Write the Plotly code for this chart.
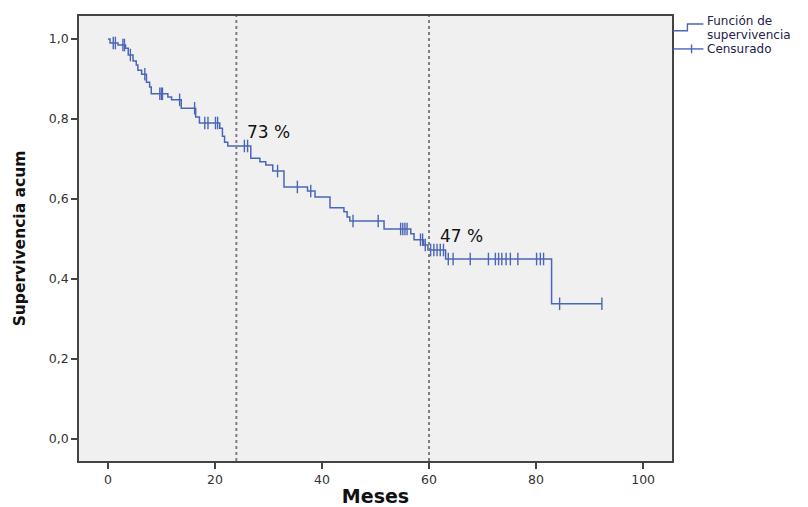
import numpy as np
import plotly.graph_objects as go

# Kaplan-Meier estimate: event times (months) and survival after each event
event_months = [0.4, 1.9, 3.3, 3.8, 4.7, 5.3, 5.6, 6.3, 7.2, 7.8, 8.1, 11.2, 11.9,
                13.7, 16.4, 17.1, 20.9, 21.4, 21.8, 22.4, 26.7, 28.4, 29.5, 30.8,
                32.9, 37.3, 38.7, 41.5, 44.1, 44.7, 45.2, 51.6, 56.6, 57.2, 59.0,
                59.8, 63.1, 82.9]
survival = [0.990, 0.985, 0.977, 0.960, 0.945, 0.935, 0.922, 0.912, 0.892, 0.880,
            0.863, 0.855, 0.848, 0.827, 0.805, 0.790, 0.777, 0.757, 0.742, 0.7325,
            0.702, 0.693, 0.685, 0.670, 0.630, 0.620, 0.605, 0.578, 0.568, 0.555,
            0.545, 0.525, 0.513, 0.498, 0.485, 0.4725, 0.450, 0.338]

# Censored follow-up times (months)
censored_months = [1.0, 1.4, 2.8, 3.1, 4.2, 6.9, 9.7, 10.0, 10.2, 13.4, 16.2, 18.1,
                   18.7, 20.1, 20.5, 25.5, 26.1, 31.7, 35.4, 37.9, 45.8, 50.5, 54.7,
                   55.1, 55.5, 55.9, 58.4, 58.8, 59.3, 60.3, 60.9, 61.5, 62.1, 62.7,
                   63.6, 64.5, 67.7, 71.1, 72.4, 73.0, 73.6, 74.4, 75.2, 76.6, 80.1,
                   80.8, 81.4, 84.4, 92.3]

# Reference marks on the time axis and their survival labels
mark_months = [24, 60]
mark_labels = ["73 %", "47 %"]

x_ticks = [0, 20, 40, 60, 80, 100]
y_ticks = [0.0, 0.2, 0.4, 0.6, 0.8, 1.0]
y_tick_text = ["0,0", "0,2", "0,4", "0,6", "0,8", "1,0"]

BLUE = "#4a66b7"


def surv_at(t):
    s = 1.0
    for et, sv in zip(event_months, survival):
        if et <= t:
            s = sv
    return s


step_x = [0.0] + event_months + [max(censored_months)]
step_y = [1.0] + survival + [survival[-1]]
cens_y = [surv_at(t) for t in censored_months]

fig = go.Figure()
fig.add_trace(go.Scatter(x=step_x, y=step_y, mode="lines", line_shape="hv",
                         line=dict(color=BLUE, width=1.5), hoverinfo="skip",
                         showlegend=False))
fig.add_trace(go.Scatter(x=censored_months, y=cens_y, mode="markers",
                         marker=dict(symbol="line-ns-open", size=9, color=BLUE,
                                     line=dict(color=BLUE, width=1.4)),
                         showlegend=False))

for m in mark_months:
    fig.add_shape(type="line", x0=m, x1=m, xref="x", y0=0, y1=1, yref="paper",
                  line=dict(color="#7f7f7f", width=2, dash="dot"))

for m, lab in zip(mark_months, mark_labels):
    fig.add_annotation(x=m, y=surv_at(m), xref="x", yref="y", text=lab,
                       showarrow=False, xanchor="left", yanchor="bottom",
                       xshift=9, yshift=2,
                       font=dict(family="DejaVu Sans", size=17, color="#111111"))

# Legend drawn beside the plot box
legend_color = "#22224a"
fig.add_shape(type="path", xref="paper", yref="paper",
              path="M 1.002 0.967 L 1.026 0.967 L 1.026 0.982 L 1.053 0.982",
              line=dict(color=BLUE, width=1.4))
fig.add_shape(type="line", xref="paper", yref="paper", x0=1.002, x1=1.053,
              y0=0.926, y1=0.926, line=dict(color=BLUE, width=1.4))
fig.add_shape(type="line", xref="paper", yref="paper", x0=1.033, x1=1.033,
              y0=0.916, y1=0.936, line=dict(color=BLUE, width=1.4))
for txt, yy in [("Función de", 0.9885), ("supervivencia", 0.9575), ("Censurado", 0.9265)]:
    fig.add_annotation(x=1.056, y=yy, xref="paper", yref="paper", text=txt,
                       showarrow=False, xanchor="left", yanchor="middle",
                       font=dict(family="DejaVu Sans", size=12, color=legend_color))

fig.update_layout(
    width=808, height=507,
    margin=dict(l=79, r=136, t=16, b=46, autoexpand=False),
    paper_bgcolor="white", plot_bgcolor="#f0f0f0",
    font=dict(family="DejaVu Sans", color="#333333"),
    showlegend=False,
)
fig.update_xaxes(range=[-5.4, 105.4], tickvals=x_ticks, ticks="outside", ticklen=6,
                 tickcolor="#444444", tickwidth=1.5, automargin=False,
                 showgrid=False, zeroline=False, showline=True, mirror=True,
                 linecolor="#444444", linewidth=1.5,
                 tickfont=dict(size=12.5, color="#333333"),
                 title=dict(text="<b>Meses</b>", font=dict(size=19, color="#111111"),
                            standoff=5))
fig.update_yaxes(range=[-0.055, 1.0575], tickvals=y_ticks, ticktext=y_tick_text,
                 ticks="outside", ticklen=6, tickcolor="#444444", tickwidth=1.5,
                 automargin=False,
                 showgrid=False, zeroline=False, showline=True, mirror=True,
                 linecolor="#444444", linewidth=1.5,
                 tickfont=dict(size=12.5, color="#333333"),
                 title=dict(text="<b>Supervivencia acum</b>",
                            font=dict(size=15.5, color="#111111"), standoff=19))

fig.write_html("out.html")
